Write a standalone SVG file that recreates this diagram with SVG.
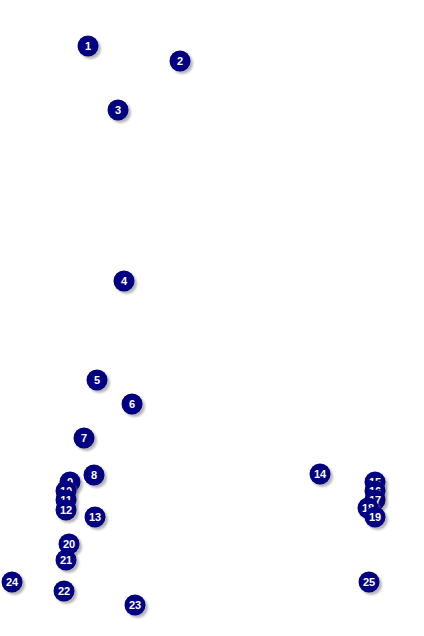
<svg xmlns="http://www.w3.org/2000/svg" width="424" height="636" viewBox="0 0 424 636">
<style>
.sh{fill:#7a7a7a;opacity:0.55}
.c{fill:#000080}
.t{fill:#fff;font-family:"Liberation Sans",Arial,sans-serif;font-weight:bold;font-size:11px;text-anchor:middle}
</style>
<defs>
<filter id="blur" x="-50%" y="-50%" width="200%" height="200%"><feGaussianBlur stdDeviation="0.8"/></filter>
</defs>
<rect width="424" height="636" fill="#fff"/>
<g id="connectors"/>
<g id="n1"><circle class="sh" cx="90.5" cy="48.5" r="10.5" filter="url(#blur)"/><circle class="c" cx="88" cy="46" r="10.5"/><text class="t" x="88" y="50">1</text></g>
<g id="n2"><circle class="sh" cx="182.5" cy="63.5" r="10.5" filter="url(#blur)"/><circle class="c" cx="180" cy="61" r="10.5"/><text class="t" x="180" y="65">2</text></g>
<g id="n3"><circle class="sh" cx="120.5" cy="112.5" r="10.5" filter="url(#blur)"/><circle class="c" cx="118" cy="110" r="10.5"/><text class="t" x="118" y="114">3</text></g>
<g id="n4"><circle class="sh" cx="126.5" cy="283.5" r="10.5" filter="url(#blur)"/><circle class="c" cx="124" cy="281" r="10.5"/><text class="t" x="124" y="285">4</text></g>
<g id="n5"><circle class="sh" cx="99.5" cy="382.5" r="10.5" filter="url(#blur)"/><circle class="c" cx="97" cy="380" r="10.5"/><text class="t" x="97" y="384">5</text></g>
<g id="n6"><circle class="sh" cx="134.5" cy="406.5" r="10.5" filter="url(#blur)"/><circle class="c" cx="132" cy="404" r="10.5"/><text class="t" x="132" y="408">6</text></g>
<g id="n7"><circle class="sh" cx="86.5" cy="440.5" r="10.5" filter="url(#blur)"/><circle class="c" cx="84" cy="438" r="10.5"/><text class="t" x="84" y="442">7</text></g>
<g id="n8"><circle class="sh" cx="96.5" cy="477.5" r="10.5" filter="url(#blur)"/><circle class="c" cx="94" cy="475" r="10.5"/><text class="t" x="94" y="479">8</text></g>
<g id="n9"><circle class="sh" cx="72.5" cy="484.5" r="10.5" filter="url(#blur)"/><circle class="c" cx="70" cy="482" r="10.5"/><text class="t" x="70" y="486">9</text></g>
<g id="n10"><circle class="sh" cx="68.5" cy="493.5" r="10.5" filter="url(#blur)"/><circle class="c" cx="66" cy="491" r="10.5"/><text class="t" x="66" y="495">10</text></g>
<g id="n11"><circle class="sh" cx="68.5" cy="502.5" r="10.5" filter="url(#blur)"/><circle class="c" cx="66" cy="500" r="10.5"/><text class="t" x="66" y="504">11</text></g>
<g id="n12"><circle class="sh" cx="68.5" cy="512.5" r="10.5" filter="url(#blur)"/><circle class="c" cx="66" cy="510" r="10.5"/><text class="t" x="66" y="514">12</text></g>
<g id="n13"><circle class="sh" cx="97.5" cy="519.5" r="10.5" filter="url(#blur)"/><circle class="c" cx="95" cy="517" r="10.5"/><text class="t" x="95" y="521">13</text></g>
<g id="n14"><circle class="sh" cx="322.5" cy="476.5" r="10.5" filter="url(#blur)"/><circle class="c" cx="320" cy="474" r="10.5"/><text class="t" x="320" y="478">14</text></g>
<g id="n15"><circle class="sh" cx="377.5" cy="484.5" r="10.5" filter="url(#blur)"/><circle class="c" cx="375" cy="482" r="10.5"/><text class="t" x="375" y="486">15</text></g>
<g id="n16"><circle class="sh" cx="377.5" cy="493.5" r="10.5" filter="url(#blur)"/><circle class="c" cx="375" cy="491" r="10.5"/><text class="t" x="375" y="495">16</text></g>
<g id="n17"><circle class="sh" cx="377.5" cy="502.5" r="10.5" filter="url(#blur)"/><circle class="c" cx="375" cy="500" r="10.5"/><text class="t" x="375" y="504">17</text></g>
<g id="n18"><circle class="sh" cx="370.5" cy="510.5" r="10.5" filter="url(#blur)"/><circle class="c" cx="368" cy="508" r="10.5"/><text class="t" x="368" y="512">18</text></g>
<g id="n19"><circle class="sh" cx="377.5" cy="519.5" r="10.5" filter="url(#blur)"/><circle class="c" cx="375" cy="517" r="10.5"/><text class="t" x="375" y="521">19</text></g>
<g id="n20"><circle class="sh" cx="71.5" cy="546.5" r="10.5" filter="url(#blur)"/><circle class="c" cx="69" cy="544" r="10.5"/><text class="t" x="69" y="548">20</text></g>
<g id="n21"><circle class="sh" cx="68.5" cy="562.5" r="10.5" filter="url(#blur)"/><circle class="c" cx="66" cy="560" r="10.5"/><text class="t" x="66" y="564">21</text></g>
<g id="n22"><circle class="sh" cx="66.5" cy="593.5" r="10.5" filter="url(#blur)"/><circle class="c" cx="64" cy="591" r="10.5"/><text class="t" x="64" y="595">22</text></g>
<g id="n23"><circle class="sh" cx="137.5" cy="607.5" r="10.5" filter="url(#blur)"/><circle class="c" cx="135" cy="605" r="10.5"/><text class="t" x="135" y="609">23</text></g>
<g id="n24"><circle class="sh" cx="14.5" cy="584.5" r="10.5" filter="url(#blur)"/><circle class="c" cx="12" cy="582" r="10.5"/><text class="t" x="12" y="586">24</text></g>
<g id="n25"><circle class="sh" cx="371.5" cy="584.5" r="10.5" filter="url(#blur)"/><circle class="c" cx="369" cy="582" r="10.5"/><text class="t" x="369" y="586">25</text></g>
</svg>
